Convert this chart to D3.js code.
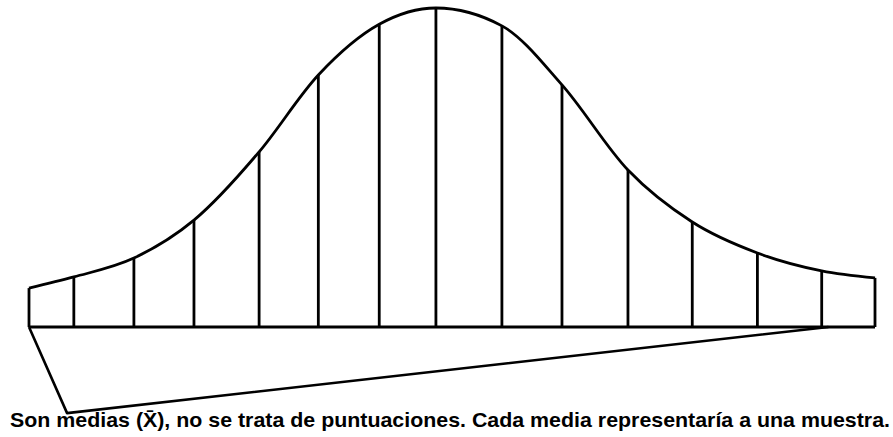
<!DOCTYPE html>
<html>
<head>
<meta charset="utf-8">
<script src="https://cdn.jsdelivr.net/npm/d3@7"></script>
<style>
  body { margin: 0; background: #fff; }
</style>
</head>
<body>
<div class="chart"></div>
<script>
// positions of the sample means along the axis (arbitrary units, 0..100)
const meanPositions = [0, 5.3, 12.4, 19.5, 27.2, 34.2, 41.4, 48.1, 55.9, 63.0, 70.8, 78.4, 86.1, 93.7, 100]
// height of the curve at each mean (0..100)
const curveHeights = [12.2, 15.7, 21.6, 33.5, 54.9, 79.0, 94.9, 100, 94.4, 75.9, 49.2, 32.9, 23.2, 17.6, 15.4]
// the wedge drawn under the baseline
const wedgeX = [0, 4.5, 94.5]
const wedgeY = [0, -27, 0]
const caption = "Son medias (X\u0304), no se trata de puntuaciones. Cada media representaría a una muestra."

let width = 893, height = 437

let svg = d3.select('.chart')
    .append('svg')
    .attr('width', width)
    .attr('height', height)
    .style('background', '#fff')

//scales
let x = d3.scaleLinear()
    .domain([0, 100])
    .range([29, 875])

let y = d3.scaleLinear()
    .domain([0, 100])
    .range([327, 8])

let data = meanPositions.map((p, i) => [p, curveHeights[i]])

// vertical lines
svg.append('g')
    .selectAll('line')
    .data(data)
    .join('line')
    .attr('x1', d => x(d[0]))
    .attr('x2', d => x(d[0]))
    .attr('y1', y(0))
    .attr('y2', d => y(d[1]))
    .attr('stroke', '#000')
    .attr('stroke-width', 2.8)

// baseline
svg.append('line')
    .attr('x1', x(0))
    .attr('x2', x(100))
    .attr('y1', y(0))
    .attr('y2', y(0))
    .attr('stroke', '#000')
    .attr('stroke-width', 2.8)

// the curve
let line = d3.line()
    .x(d => x(d[0]))
    .y(d => y(d[1]))
    .curve(d3.curveMonotoneX)

svg.append('path')
    .attr('fill', 'none')
    .attr('stroke', '#000')
    .attr('stroke-width', 2.8)
    .attr('d', line(data))

// wedge
let wedge = wedgeX.map((v, i) => [v, wedgeY[i]])
svg.append('path')
    .attr('fill', 'none')
    .attr('stroke', '#000')
    .attr('stroke-width', 2.6)
    .attr('stroke-linejoin', 'round')
    .attr('d', d3.line().x(d => x(d[0])).y(d => y(d[1]))(wedge))

// caption
svg.append('text')
    .attr('x', 10)
    .attr('y', 427)
    .attr('textLength', 880)
    .attr('lengthAdjust', 'spacingAndGlyphs')
    .style('font-family', '"Liberation Sans Narrow", "Liberation Sans", Arial, sans-serif')
    .style('font-weight', 'bold')
    .style('font-size', '21px')
    .attr('fill', '#000')
    .text(caption)
</script>
</body>
</html>
